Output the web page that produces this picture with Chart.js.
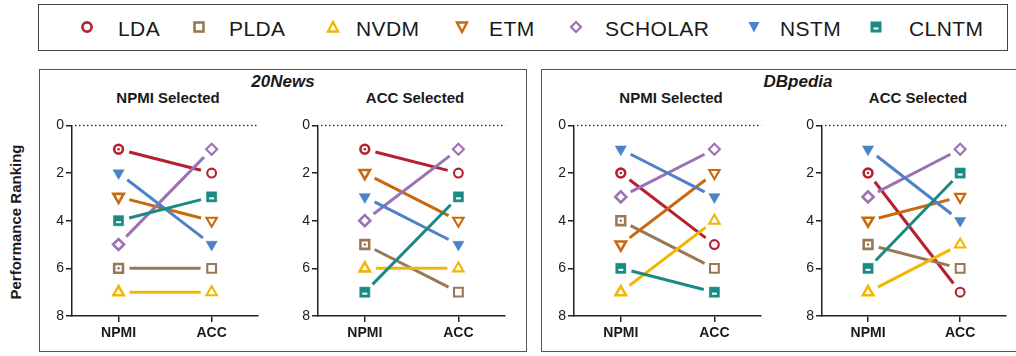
<!DOCTYPE html>
<html>
<head>
<meta charset="utf-8">
<script src="https://cdn.jsdelivr.net/npm/chart.js@4/dist/chart.umd.min.js"></script>
<style>
  body { margin:0; background:#fff; font-family:"Liberation Sans", Arial, sans-serif; color:#1a1a1a; }
  #wrap { position:relative; width:1016px; height:356px; overflow:hidden; }
  .box { position:absolute; border:1.5px solid #555; box-sizing:border-box; }
  .abs { position:absolute; white-space:nowrap; }
  .ptitle { font-weight:bold; font-size:15px; transform:translate(-50%,-50%); }
  .dtitle { font-weight:bold; font-style:italic; font-size:17px; transform:translate(-50%,-50%); }
  .leg { font-size:21px; letter-spacing:0.4px; transform:translateY(-50%); }
  .mk { position:absolute; transform:translate(-50%,-50%); }
  canvas { position:absolute; }
</style>
</head>
<body>
<div id="wrap">
  <div class="box" style="left:38px;top:4px;width:970px;height:47px;border-color:#444"></div>
  <div class="box" style="left:39px;top:69px;width:488px;height:283px"></div>
  <div class="box" style="left:541px;top:69px;width:500px;height:283px"></div>

  <div class="abs dtitle" style="left:283px;top:82px">20News</div>
  <div class="abs dtitle" style="left:798px;top:82px">DBpedia</div>
  <div class="abs ptitle" style="left:168px;top:97px">NPMI Selected</div>
  <div class="abs ptitle" style="left:415px;top:97px">ACC Selected</div>
  <div class="abs ptitle" style="left:671px;top:97px">NPMI Selected</div>
  <div class="abs ptitle" style="left:918px;top:97px">ACC Selected</div>
  <div class="abs" style="left:15px;top:222px;font-weight:bold;font-size:15px;transform:translate(-50%,-50%) rotate(-90deg)">Performance Ranking</div>

  <div id="legend"></div>

  <canvas id="c1"></canvas>
  <canvas id="c2"></canvas>
  <canvas id="c3"></canvas>
  <canvas id="c4"></canvas>
</div>
<script>
// data
const methods = ['LDA', 'PLDA', 'NVDM', 'ETM', 'SCHOLAR', 'NSTM', 'CLNTM'];
const metrics = ['NPMI', 'ACC'];
const yTicks = [0, 2, 4, 6, 8];

// 20News, NPMI selected
const news_npmiSel_NPMI = [1, 6, 7, 3, 5, 2, 4];
const news_npmiSel_ACC  = [2, 6, 7, 4, 1, 5, 3];
// 20News, ACC selected
const news_accSel_NPMI = [1, 5, 6, 2, 4, 3, 7];
const news_accSel_ACC  = [2, 7, 6, 4, 1, 5, 3];
// DBpedia, NPMI selected
const dbp_npmiSel_NPMI = [2, 4, 7, 5, 3, 1, 6];
const dbp_npmiSel_ACC  = [5, 6, 4, 2, 1, 3, 7];
// DBpedia, ACC selected
const dbp_accSel_NPMI = [2, 5, 7, 4, 3, 1, 6];
const dbp_accSel_ACC  = [7, 6, 5, 3, 1, 4, 2];

const colors = ['#b5202e', '#9a7856', '#f2b705', '#c8680f', '#9b72b4', '#4d82c6', '#1c8a84'];
const shapes = [
  {style:'circle',  rot:0,   r:4.4, filled:false},
  {style:'rect',    rot:0,   r:6.2, filled:false},
  {style:'triangle',rot:0,   r:6,   filled:false},
  {style:'triangle',rot:180, r:6,   filled:false},
  {style:'rectRot', rot:0,   r:5.5, filled:false},
  {style:'triangle',rot:180, r:6.5, filled:true},
  {style:'rect',    rot:0,   r:7.2, filled:true}
];

// legend (svg markers)
const legPos = [[87,118],[199,229],[333,356],[462,489],[576,605],[754,780],[876,909]];
function svgMarker(i) {
  const c = colors[i];
  let s = '';
  if (i === 0) s = `<circle cx="8" cy="8" r="4.6" fill="none" stroke="${c}" stroke-width="2.6"/>`;
  if (i === 1) s = `<rect x="3.5" y="3.5" width="9" height="9" fill="none" stroke="${c}" stroke-width="2.6"/>`;
  if (i === 2) s = `<polygon points="8,3 13,12.5 3,12.5" fill="none" stroke="${c}" stroke-width="2.4"/>`;
  if (i === 3) s = `<polygon points="8,13 13,3.5 3,3.5" fill="none" stroke="${c}" stroke-width="2.4"/>`;
  if (i === 4) s = `<polygon points="8,3 13,8 8,13 3,8" fill="none" stroke="${c}" stroke-width="2.2"/>`;
  if (i === 5) s = `<polygon points="8,13.5 13.5,3 2.5,3" fill="${c}"/>`;
  if (i === 6) s = `<rect x="2.5" y="2.5" width="11" height="11" fill="${c}"/><rect x="5.5" y="8.5" width="5" height="2" fill="#fff"/>`;
  return `<svg width="16" height="16" viewBox="0 0 16 16">${s}</svg>`;
}
let legHtml = '';
methods.forEach((m, i) => {
  legHtml += `<div class="mk" style="left:${legPos[i][0]}px;top:29px">${svgMarker(i)}</div>`;
  legHtml += `<div class="abs leg" style="left:${legPos[i][1]}px;top:29px">${m}</div>`;
});
document.getElementById('legend').innerHTML = legHtml;

// shortened connecting lines, zero line, marker details
const GAP = 11;
const slopePlugin = {
  id: 'slope',
  beforeDatasetsDraw(chart) {
    const ctx = chart.ctx;
    const ys = chart.scales.y, area = chart.chartArea;
    ctx.save();
    ctx.strokeStyle = '#333';
    ctx.lineWidth = 1.5;
    ctx.setLineDash([1.5, 2.5]);
    const y0 = ys.getPixelForValue(0);
    ctx.beginPath();
    ctx.moveTo(area.left + 3, y0);
    ctx.lineTo(area.right, y0);
    ctx.stroke();
    ctx.setLineDash([]);
    ctx.lineWidth = 3;
    ctx.lineCap = 'butt';
    chart.data.datasets.forEach((ds, i) => {
      const pts = chart.getDatasetMeta(i).data;
      const a = pts[0], b = pts[1];
      const dx = b.x - a.x, dy = b.y - a.y;
      const len = Math.sqrt(dx*dx + dy*dy);
      const ux = dx / len, uy = dy / len;
      ctx.strokeStyle = colors[i];
      ctx.beginPath();
      ctx.moveTo(a.x + ux*GAP, a.y + uy*GAP);
      ctx.lineTo(b.x - ux*GAP, b.y - uy*GAP);
      ctx.stroke();
    });
    ctx.restore();
  },
  afterDatasetsDraw(chart) {
    const ctx = chart.ctx;
    ctx.save();
    chart.data.datasets.forEach((ds, i) => {
      const pts = chart.getDatasetMeta(i).data;
      if (i === 6) {
        pts.forEach(p => {
          ctx.fillStyle = '#fff';
          ctx.fillRect(p.x - 2.5, p.y + 0.5, 5, 2);
        });
      } else if (i <= 1) {
        const p = pts[0];
        ctx.fillStyle = colors[i];
        ctx.beginPath();
        ctx.arc(p.x, p.y, 1.3, 0, Math.PI*2);
        ctx.fill();
      }
    });
    ctx.restore();
  }
};

const Y_W = 34, X_H = 28, PAD_T = 10, PAD_R = 4;
function slopeChart(id, area, npmiVals, accVals) {
  const cv = document.getElementById(id);
  const left = area.l - Y_W, top = area.t - PAD_T;
  const w = area.r - left + PAD_R, h = area.b - top + X_H;
  cv.style.left = left + 'px';
  cv.style.top = top + 'px';
  cv.style.width = w + 'px';
  cv.style.height = h + 'px';
  cv.width = w; cv.height = h;

  const datasets = methods.map((m, i) => ({
    label: m,
    data: [npmiVals[i], accVals[i]],
    showLine: false,
    borderColor: colors[i],
    backgroundColor: colors[i],
    pointStyle: shapes[i].style,
    rotation: shapes[i].rot,
    pointRadius: shapes[i].r,
    pointHoverRadius: shapes[i].r,
    pointBorderColor: colors[i],
    pointBackgroundColor: shapes[i].filled ? colors[i] : '#fff',
    pointBorderWidth: c => shapes[i].filled ? 0.5 : (c.dataIndex === 0 ? 2.6 : 2.1)
  }));

  new Chart(cv, {
    type: 'line',
    data: { labels: metrics, datasets: datasets },
    options: {
      responsive: false,
      animation: false,
      events: [],
      clip: false,
      layout: { padding: { top: PAD_T, right: PAD_R, left: 0, bottom: 0 } },
      plugins: { legend: { display: false }, tooltip: { enabled: false } },
      scales: {
        x: {
          type: 'category',
          offset: true,
          grid: { drawOnChartArea: false, drawTicks: true, tickLength: 6, color: '#222', lineWidth: 1.5 },
          border: { color: '#222', width: 1.5 },
          ticks: { color: '#1a1a1a', font: { family: 'Liberation Sans', size: 14, weight: 'bold' }, padding: 3 },
          afterFit: s => { s.height = X_H; }
        },
        y: {
          min: 0, max: 8, reverse: true,
          afterBuildTicks: s => { s.ticks = yTicks.map(v => ({ value: v })); },
          grid: { drawOnChartArea: false, drawTicks: true, tickLength: 6, color: '#222', lineWidth: 1.5 },
          border: { color: '#222', width: 1.5 },
          ticks: { color: '#1a1a1a', font: { family: 'Liberation Sans', size: 14 }, padding: 2 },
          afterFit: s => { s.width = Y_W; }
        }
      }
    },
    plugins: [slopePlugin]
  });
}

slopeChart('c1', {l:72,  r:263,  t:125, b:316}, news_npmiSel_NPMI, news_npmiSel_ACC);
slopeChart('c2', {l:318, r:510,  t:125, b:316}, news_accSel_NPMI, news_accSel_ACC);
slopeChart('c3', {l:574, r:766,  t:125, b:316}, dbp_npmiSel_NPMI, dbp_npmiSel_ACC);
slopeChart('c4', {l:822, r:1011, t:125, b:316}, dbp_accSel_NPMI, dbp_accSel_ACC);
</script>
</body>
</html>
